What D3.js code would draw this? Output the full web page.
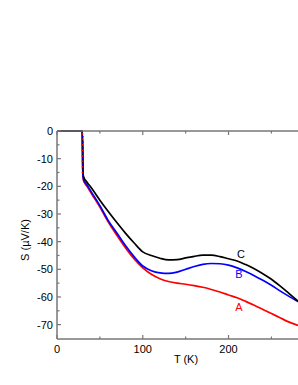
<!DOCTYPE html>
<html>
<head>
<meta charset="utf-8">
<script src="https://cdn.jsdelivr.net/npm/d3@7"></script>
<style>
  body { margin: 0; background: #fff; }
  svg { display: block; font-family: "Liberation Sans", Arial, sans-serif; }
</style>
</head>
<body>
<svg id="chart" width="298" height="385"></svg>
<script>
// temperatures (K) shared by the three samples
const temps = [0, 29.5, 30.2, 31, 35, 40, 50, 60, 70, 80, 90, 100, 110, 120, 130, 140, 150,
  160, 170, 180, 190, 200, 210, 220, 230, 240, 250, 260, 270, 281];

const seriesA = [0, 0, -16, -18, -20, -22.5, -27.5, -33, -37.8, -42.3, -46.3, -49.5, -51.8, -53.4,
  -54.4, -55, -55.4, -55.9, -56.5, -57.3, -58.2, -59.3, -60.3, -61.6, -63, -64.5, -66, -67.5, -69, -70.3];
const seriesB = [0, 0, -15.5, -17.5, -19.5, -22, -27, -32.5, -37, -41.5, -45.5, -48.8, -50.5, -51.3,
  -51.5, -51, -50, -49, -48.2, -47.9, -48, -48.5, -49.5, -50.8, -52.3, -54, -55.8, -57.8, -59.7, -61.7];
const seriesC = [0, 0, -15, -16.5, -18.5, -20.5, -25, -29.2, -33.2, -37, -40.5, -43.7, -45, -46,
  -46.6, -46.5, -45.9, -45.3, -44.9, -44.9, -45.4, -46.2, -47, -48.3, -49.8, -51.6, -53.6, -56, -58.6, -61.5];

// points measured along the sharp drop near 30 K
const dropS = [-1, -3, -5, -7, -9, -11, -13, -15];

const xTicks = [0, 100, 200];
const xMinor = [50, 150, 250];
const yTicks = [0, -10, -20, -30, -40, -50, -60, -70];
const yMinor = [-5, -15, -25, -35, -45, -55, -65];

const svg = d3.select("#chart");
const plotL = 57, plotR = 298, plotT = 131, plotB = 339;
const axisColor = "#777";

const x = d3.scaleLinear().domain([0, 281]).range([plotL, plotR]);
const y = d3.scaleLinear().domain([-75.2, 0]).range([plotB, plotT]);

const line = d3.line()
    .x(d => x(d[0]))
    .y(d => y(d[1]))
    .curve(d3.curveMonotoneX);

const series = [
  { name: "A", vals: seriesA, color: "#ff0000", lx: 239, ly: 307 },
  { name: "B", vals: seriesB, color: "#0000ff", lx: 239, ly: 274 },
  { name: "C", vals: seriesC, color: "#000000", lx: 241, ly: 254 }
];

series.forEach(s => {
  svg.append("path")
      .datum(temps.map((t, i) => [t, s.vals[i]]))
      .attr("d", line)
      .attr("fill", "none")
      .attr("stroke", s.color)
      .attr("stroke-width", 1.7);
});

// markers on the drop
svg.selectAll(".dropR")
    .data(dropS)
    .enter()
    .append("circle")
    .attr("cx", x(29.7))
    .attr("cy", d => y(d))
    .attr("r", 0.9)
    .attr("fill", "#ff0000");
svg.selectAll(".dropB")
    .data(dropS)
    .enter()
    .append("circle")
    .attr("cx", x(30.1))
    .attr("cy", d => y(d - 1))
    .attr("r", 0.9)
    .attr("fill", "#0000ff");

// axes frame
svg.append("line").attr("x1", plotL).attr("x2", plotL).attr("y1", plotT).attr("y2", plotB)
    .attr("stroke", axisColor).attr("stroke-width", 1.5);
svg.append("line").attr("x1", plotL).attr("x2", plotR).attr("y1", plotB).attr("y2", plotB)
    .attr("stroke", axisColor).attr("stroke-width", 1.5);
svg.append("line").attr("x1", plotL).attr("x2", plotR).attr("y1", plotT).attr("y2", plotT)
    .attr("stroke", axisColor).attr("stroke-width", 1.5);

// x ticks (inward), bottom and top
[[xTicks, 4], [xMinor, 2.5]].forEach(([vals, len]) => {
  vals.forEach(v => {
    svg.append("line").attr("x1", x(v)).attr("x2", x(v)).attr("y1", plotB).attr("y2", plotB - len)
        .attr("stroke", axisColor).attr("stroke-width", 1.2);
    svg.append("line").attr("x1", x(v)).attr("x2", x(v)).attr("y1", plotT).attr("y2", plotT + len)
        .attr("stroke", axisColor).attr("stroke-width", 1.2);
  });
});

// y ticks (inward)
[[yTicks, 4], [yMinor, 2.5]].forEach(([vals, len]) => {
  vals.forEach(v => {
    svg.append("line").attr("x1", plotL).attr("x2", plotL + len).attr("y1", y(v)).attr("y2", y(v))
        .attr("stroke", axisColor).attr("stroke-width", 1.2);
  });
});

svg.selectAll(".xl")
    .data(xTicks)
    .enter()
    .append("text")
    .attr("x", d => x(d))
    .attr("y", 353)
    .attr("text-anchor", "middle")
    .attr("font-size", 11)
    .text(d => d);

svg.selectAll(".yl")
    .data(yTicks)
    .enter()
    .append("text")
    .attr("x", 53)
    .attr("y", d => y(d) + 4)
    .attr("text-anchor", "end")
    .attr("font-size", 11)
    .text(d => d);

svg.append("text")
    .attr("x", 186)
    .attr("y", 363)
    .attr("text-anchor", "middle")
    .attr("font-size", 11)
    .text("T (K)");

svg.append("text")
    .attr("transform", "translate(29,240) rotate(-90)")
    .attr("text-anchor", "middle")
    .attr("font-size", 11)
    .text("S (\u00b5V/K)");

// curve labels
series.forEach(s => {
  svg.append("text")
      .attr("x", s.lx)
      .attr("y", s.ly + 4)
      .attr("text-anchor", "middle")
      .attr("font-size", 11)
      .attr("fill", s.color)
      .text(s.name);
});
</script>
</body>
</html>
